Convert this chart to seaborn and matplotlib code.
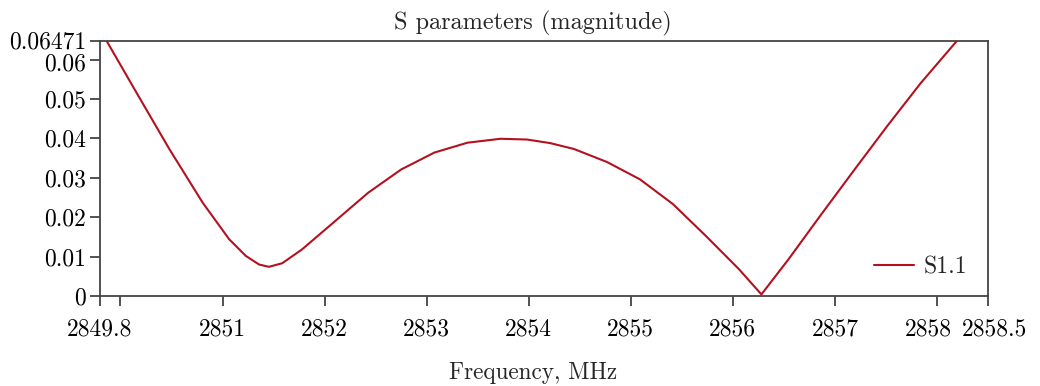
# S11 magnitude sweep

import pandas as pd
import matplotlib
matplotlib.use('Agg')
import matplotlib.pyplot as plt
import matplotlib.transforms as mtransforms
import seaborn as sns

sns.set_theme(style='ticks')
plt.rcParams['font.family'] = 'serif'
plt.rcParams['font.serif'] = ['cmr10', 'DejaVu Serif']
plt.rcParams['axes.formatter.use_mathtext'] = True

# values
freq_mhz = [2849.800, 2849.865, 2850.157, 2850.481, 2850.805, 2851.065, 2851.227,
            2851.357, 2851.454, 2851.584, 2851.778, 2852.103, 2852.427, 2852.750,
            2853.076, 2853.400, 2853.725, 2853.984, 2854.210, 2854.444, 2854.767,
            2855.090, 2855.414, 2855.737, 2856.060, 2856.280, 2856.545, 2856.869,
            2857.190, 2857.515, 2857.840, 2858.194, 2858.220]
s11_mag = [0.0676, 0.0647, 0.0516, 0.0372, 0.0237, 0.0144, 0.0102,
           0.0080, 0.0074, 0.0083, 0.0118, 0.0190, 0.0262, 0.0321,
           0.0364, 0.0389, 0.0399, 0.0397, 0.0388, 0.0373, 0.0340,
           0.0296, 0.0233, 0.0152, 0.0068, 0.0004, 0.0093, 0.0208,
           0.0320, 0.0432, 0.0540, 0.0647, 0.0656]

x_ticks = [2849.8, 2850, 2851, 2852, 2853, 2854, 2855, 2856, 2857, 2858, 2858.5]
x_labels = ['2849.8', '', '2851', '2852', '2853', '2854', '2855', '2856', '2857', '2858', '2858.5']
y_ticks = [0, 0.01, 0.02, 0.03, 0.04, 0.05, 0.06, 0.06471]
y_labels = ['0', '0.01', '0.02', '0.03', '0.04', '0.05', '0.06', '0.06471']

df = pd.DataFrame({'freq': freq_mhz, 'S1.1': s11_mag})

fig, ax = plt.subplots(figsize=(10.4, 3.86), dpi=100)
fig.subplots_adjust(left=0.0962, right=0.95, top=0.8938, bottom=0.2332)

sns.lineplot(data=df, x='freq', y='S1.1', ax=ax, color='#b3111f', linewidth=1.5,
             label='S1.1', solid_joinstyle='round')

ax.set_xlim(2849.8, 2858.5)
ax.set_ylim(0, 0.06471)
ax.set_xticks(x_ticks)
ax.set_xticklabels(x_labels)
ax.set_yticks(y_ticks)
ax.set_yticklabels(y_labels)

for sp in ax.spines.values():
    sp.set_color('#444444')
    sp.set_linewidth(1.3)
ax.tick_params(axis='both', direction='out', length=7, width=1.3, color='#444444',
               labelsize=17, labelcolor='black')
ax.tick_params(axis='x', pad=9)
ax.tick_params(axis='y', pad=3)

# push crowded labels apart, as in the reference
def nudge(lab, dx, dy):
    lab.set_transform(lab.get_transform() + mtransforms.ScaledTranslation(dx / 100, dy / 100, fig.dpi_scale_trans))

xlabs = ax.get_xticklabels()
nudge(xlabs[-2], -9, 0)
nudge(xlabs[-1], 7, 0)
ylabs = ax.get_yticklabels()
nudge(ylabs[-2], 0, -2)
nudge(ylabs[-1], 0, 1.5)

ax.set_title('S parameters (magnitude)', fontsize=17.5, pad=8, x=0.4876)
ax.set_xlabel('Frequency, MHz', fontsize=16.7)
ax.xaxis.set_label_coords(0.4876, -0.258)
ax.set_ylabel('')

ax.legend(loc='lower right', frameon=False, fontsize=17, handlelength=1.7,
          handletextpad=0.4, bbox_to_anchor=(1.0, -0.015))

fig.savefig('out.png', dpi=100)
